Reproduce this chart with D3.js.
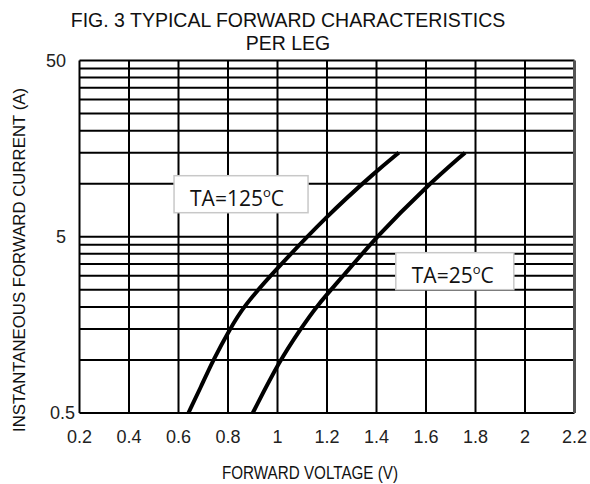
<!DOCTYPE html>
<html lang="en">
    <head>
        <meta charset="UTF-8">
        <title>forward characteristics</title>
        <script src="https://cdn.jsdelivr.net/npm/d3@7"></script>
        <style>
            body { margin: 0; background: #fff; }
        </style>
    </head>
    <body>
        <div id="chart"></div>
    </body>
    <script>
        var width = 590;
        var height = 484;
        //plot area
        var plot = {left: 79.5, right: 574.5, top: 60.5, bottom: 413};

        //data
        var xTicks = [0.2, 0.4, 0.6, 0.8, 1, 1.2, 1.4, 1.6, 1.8, 2, 2.2];
        var yGrid = [0.5, 1, 1.5, 2, 2.5, 3, 3.5, 4, 4.5, 5,
                     10, 15, 20, 25, 30, 35, 40, 45, 50];
        var yLabels = [0.5, 5, 50];
        var ta125V = [0.64, 0.69, 0.74, 0.808, 0.862, 0.97, 1.2, 1.4, 1.49];
        var ta125I = [0.5, 0.7, 1.0, 1.5, 2.0, 3.0, 6.6, 11.8, 15];
        var ta25V = [0.90, 1.01, 1.094, 1.155, 1.266, 1.4, 1.6, 1.758];
        var ta25I = [0.5, 1.0, 1.5, 2.0, 3.0, 5.0, 9.6, 15];
        var seriesNames = ["TA=125", "TA=25"];
        //label box anchors (top-left corner, in data units)
        var labelV = [0.582, 1.478];
        var labelI = [11.1, 4.06];

        var svg = d3.select("#chart")
            .append("svg")
            .attr("width", width)
            .attr("height", height);

        var xScale = d3.scaleLinear()
            .domain([0.2, 2.2])
            .range([plot.left, plot.right]);
        var yScale = d3.scaleLog()
            .domain([0.5, 50])
            .range([plot.bottom, plot.top]);

        //title
        svg.append("text")
            .attr("x", 288).attr("y", 27)
            .attr("text-anchor", "middle")
            .style("font-family", "'Liberation Sans', Arial, sans-serif")
            .style("font-size", "19.5px")
            .attr("fill", "#111")
            .text("FIG. 3 TYPICAL FORWARD CHARACTERISTICS");
        svg.append("text")
            .attr("x", 288).attr("y", 50)
            .attr("text-anchor", "middle")
            .style("font-family", "'Liberation Sans', Arial, sans-serif")
            .style("font-size", "19.5px")
            .attr("fill", "#111")
            .text("PER LEG");

        //grid
        var grid = svg.append("g");
        grid.selectAll("line.h")
            .data(yGrid)
            .enter()
            .append("line")
            .attr("class", "h")
            .attr("x1", plot.left).attr("x2", plot.right)
            .attr("y1", function (d) { return yScale(d); })
            .attr("y2", function (d) { return yScale(d); })
            .attr("stroke", "#000")
            .attr("stroke-width", 2);
        grid.selectAll("line.v")
            .data(xTicks)
            .enter()
            .append("line")
            .attr("class", "v")
            .attr("x1", function (d) { return xScale(d); })
            .attr("x2", function (d) { return xScale(d); })
            .attr("y1", plot.top).attr("y2", plot.bottom)
            .attr("stroke", function (d, i) { return i == xTicks.length - 1 ? "#555" : "#000"; })
            .attr("stroke-width", function (d, i) { return i == xTicks.length - 1 ? 3 : 2; });

        //x tick labels
        svg.append("g")
            .selectAll("text")
            .data(xTicks)
            .enter()
            .append("text")
            .attr("x", function (d) { return xScale(d); })
            .attr("y", 443)
            .attr("text-anchor", "middle")
            .style("font-family", "'Liberation Sans', Arial, sans-serif")
            .style("font-size", "18px")
            .attr("fill", "#222")
            .text(function (d) { return d; });

        //y tick labels
        svg.append("g")
            .selectAll("text")
            .data(yLabels)
            .enter()
            .append("text")
            .attr("x", function (d) { return d < 1 ? 75 : 66; })
            .attr("y", function (d) { return yScale(d) + 6; })
            .attr("text-anchor", "end")
            .style("font-family", "'Liberation Sans', Arial, sans-serif")
            .style("font-size", "18px")
            .attr("fill", "#222")
            .text(function (d) { return d; });

        //axis titles
        svg.append("text")
            .attr("x", 222).attr("y", 479)
            .attr("textLength", 176)
            .attr("lengthAdjust", "spacingAndGlyphs")
            .style("font-family", "'Liberation Sans', Arial, sans-serif")
            .style("font-size", "19px")
            .attr("fill", "#111")
            .text("FORWARD VOLTAGE (V)");
        svg.append("text")
            .attr("transform", "translate(25,260) rotate(-90)")
            .attr("text-anchor", "middle")
            .style("font-family", "'Liberation Sans', Arial, sans-serif")
            .style("font-size", "16.8px")
            .attr("fill", "#111")
            .text("INSTANTANEOUS FORWARD CURRENT (A)");

        //curves
        var line = d3.line()
            .x(function (d) { return xScale(d[0]); })
            .y(function (d) { return yScale(d[1]); })
            .curve(d3.curveBasis);
        var curves = [d3.zip(ta125V, ta125I), d3.zip(ta25V, ta25I)];
        svg.selectAll("path.curve")
            .data(curves)
            .enter()
            .append("path")
            .attr("class", "curve")
            .attr("d", line)
            .attr("fill", "none")
            .attr("stroke", "#000")
            .attr("stroke-width", 4);

        //label boxes
        var boxW = [134, 118];
        var labels = svg.selectAll("g.label")
            .data(seriesNames)
            .enter()
            .append("g")
            .attr("class", "label")
            .attr("transform", function (d, i) {
                return "translate(" + xScale(labelV[i]) + "," + yScale(labelI[i]) + ")";
            });
        labels.append("rect")
            .attr("width", function (d, i) { return boxW[i]; })
            .attr("height", 37)
            .attr("fill", "#fff")
            .attr("stroke", "#c8c8c8")
            .attr("stroke-width", 1.5);
        var t = labels.append("text")
            .attr("x", 16).attr("y", 30.5)
            .style("font-family", "'Open Sans', sans-serif")
            .style("font-size", "21px")
            .attr("fill", "#111");
        t.append("tspan").text(function (d) { return d; });
        t.append("tspan").attr("dy", -9).style("font-size", "13px").text("o");
        t.append("tspan").attr("dy", 9).text("C");
    </script>
</html>
